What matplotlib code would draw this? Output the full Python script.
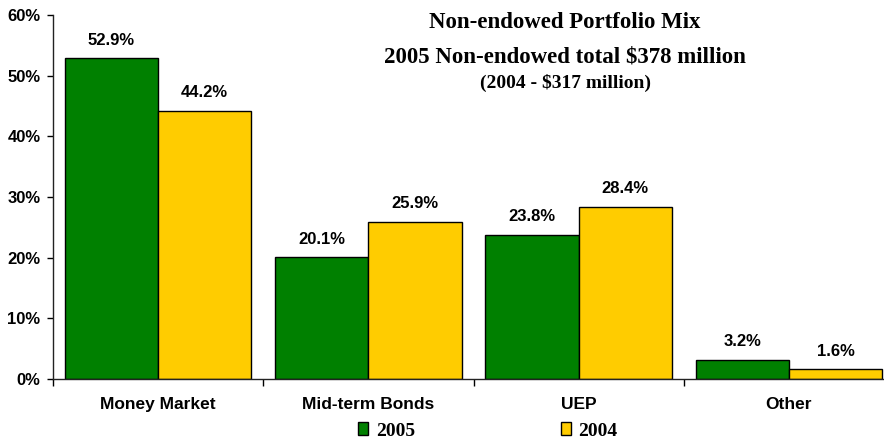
# plot.py
# Non-endowed portfolio mix, 2005 vs 2004: grouped bars with value labels.

import numpy as np
import matplotlib.pyplot as plt
from matplotlib.patches import Patch

# ---- data ----
categories = ["Money Market", "Mid-term Bonds", "UEP", "Other"]
pct_2005 = [52.9, 20.1, 23.8, 3.2]
pct_2004 = [44.2, 25.9, 28.4, 1.6]
series_names = ["2005", "2004"]
yticks = [0, 10, 20, 30, 40, 50, 60]

# ---- style ----
GREEN = "#008000"
YELLOW = "#FFCC00"
SANS = ["Liberation Sans", "DejaVu Sans"]
SERIF = ["Liberation Serif", "DejaVu Serif"]
FS_TICK = 12
FS_CAT = 12.5
FS_VAL = 12

fig = plt.figure(figsize=(8.84, 4.41), dpi=100)
# axes run slightly past the right edge, like the cropped original
ax = fig.add_axes([53 / 884, 62 / 441, 841 / 884, 364 / 441])

x = np.arange(len(categories))
w = 0.443
b1 = ax.bar(x - w / 2, pct_2005, w, color=GREEN, edgecolor="black", linewidth=1.0)
b2 = ax.bar(x + w / 2, pct_2004, w, color=YELLOW, edgecolor="black", linewidth=1.0)

for bars, vals in ((b1, pct_2005), (b2, pct_2004)):
    for r, v in zip(bars, vals):
        ax.annotate(f"{v:.1f}%", (r.get_x() + r.get_width() / 2, v),
                    xytext=(0, 7.5), textcoords="offset points",
                    ha="center", va="bottom", fontsize=FS_VAL,
                    fontweight="bold", family=SANS)

ax.set_xlim(-0.5, len(categories) - 0.5)
ax.set_ylim(0, 60)
ax.set_yticks(yticks)
ax.set_yticklabels([f"{t}%" for t in yticks], fontsize=FS_TICK,
                   fontweight="bold", family=SANS)
ax.tick_params(axis="y", direction="out", length=4, width=1, pad=5)

ax.set_xticks(x)
ax.set_xticklabels(categories, fontsize=FS_CAT, fontweight="bold", family=SANS)
ax.tick_params(axis="x", which="major", length=0, pad=13)
ax.set_xticks(np.arange(-0.5, len(categories) + 0.5, 1), minor=True)
ax.tick_params(axis="x", which="minor", direction="out", length=5, width=1)

for sp in ["top", "right"]:
    ax.spines[sp].set_visible(False)
for sp in ["left", "bottom"]:
    ax.spines[sp].set_linewidth(1.0)
    ax.spines[sp].set_color("#222222")

# title block
fig.text(565 / 884, 1 - 23 / 441, "Non-endowed Portfolio Mix", ha="center", va="center",
         fontsize=16.5, fontweight="bold", family=SERIF)
fig.text(565 / 884, 1 - 57 / 441, "2005 Non-endowed total $378 million", ha="center",
         va="center", fontsize=16.5, fontweight="bold", family=SERIF)
fig.text(565 / 884, 1 - 83 / 441, "(2004 - $317 million)", ha="center", va="center",
         fontsize=14, fontweight="bold", family=SERIF)

handles = [Patch(facecolor=GREEN, edgecolor="black", linewidth=1.0),
           Patch(facecolor=YELLOW, edgecolor="black", linewidth=1.0)]
fig.legend(handles, series_names, loc="center", bbox_to_anchor=(488 / 884, 1 - 431 / 441),
           ncol=2, frameon=False, handlelength=0.5, handleheight=0.6,
           handletextpad=0.4, columnspacing=7.5,
           prop={"family": SERIF, "weight": "bold", "size": 14})

fig.savefig("out.png", dpi=100)
